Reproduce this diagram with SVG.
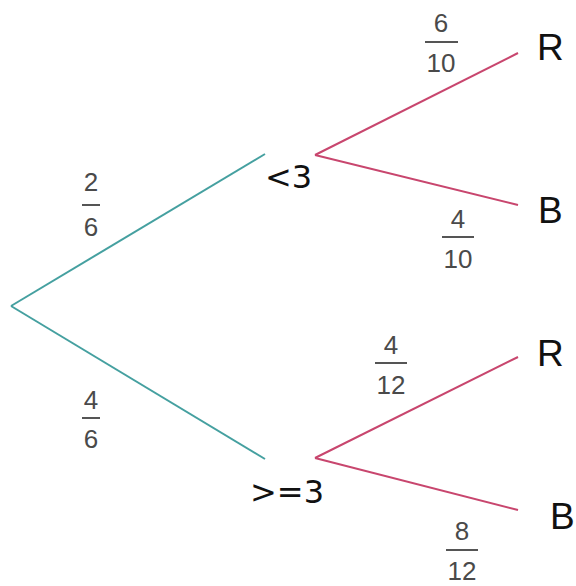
<svg xmlns="http://www.w3.org/2000/svg" width="576" height="586" viewBox="0 0 576 586">
<style>
.teal{stroke:#45a0a0;stroke-width:2;fill:none}
.pink{stroke:#c8466e;stroke-width:2;fill:none}
.node{font-family:"DejaVu Sans",sans-serif;font-size:32px;fill:#111}
.leaf{font-family:"Liberation Sans",Arial,sans-serif;font-size:37px;fill:#111}
.frac{font-family:"Liberation Sans",Arial,sans-serif;font-size:26px;fill:#4a4a4a;text-anchor:middle}
.bar{stroke:#555;stroke-width:2}
</style>
<rect width="576" height="586" fill="#fff"/>
<g id="connectors">
<line class="teal" x1="11" y1="306" x2="265" y2="154"/>
<line class="teal" x1="11" y1="306" x2="265" y2="459"/>
<line class="pink" x1="315" y1="155" x2="518" y2="53"/>
<line class="pink" x1="315" y1="155" x2="518" y2="205"/>
<line class="pink" x1="315" y1="458" x2="518" y2="357"/>
<line class="pink" x1="315" y1="458" x2="518" y2="510"/>
</g>
<g id="node-lt3"><text class="node" x="265" y="188">&lt;3</text></g>
<g id="node-ge3"><text class="node" x="250" y="503">&gt;=3</text></g>
<g id="leaf-R1"><text class="leaf" x="537" y="60">R</text></g>
<g id="leaf-B1"><text class="leaf" x="538" y="223">B</text></g>
<g id="leaf-R2"><text class="leaf" x="537" y="366">R</text></g>
<g id="leaf-B2"><text class="leaf" x="550" y="529">B</text></g>
<g id="frac-2-6"><text class="frac" x="91" y="191">2</text><line class="bar" x1="82" y1="205" x2="100" y2="205"/><text class="frac" x="91" y="236">6</text></g>
<g id="frac-4-6"><text class="frac" x="91" y="409">4</text><line class="bar" x1="82" y1="418" x2="100" y2="418"/><text class="frac" x="91" y="448">6</text></g>
<g id="frac-6-10"><text class="frac" x="441" y="32">6</text><line class="bar" x1="425" y1="42" x2="458" y2="42"/><text class="frac" x="441" y="72">10</text></g>
<g id="frac-4-10"><text class="frac" x="458" y="228">4</text><line class="bar" x1="442" y1="237" x2="474" y2="237"/><text class="frac" x="458" y="268">10</text></g>
<g id="frac-4-12"><text class="frac" x="391" y="354">4</text><line class="bar" x1="375" y1="363" x2="407" y2="363"/><text class="frac" x="391" y="394">12</text></g>
<g id="frac-8-12"><text class="frac" x="462" y="540">8</text><line class="bar" x1="446" y1="550" x2="478" y2="550"/><text class="frac" x="462" y="580">12</text></g>
</svg>
